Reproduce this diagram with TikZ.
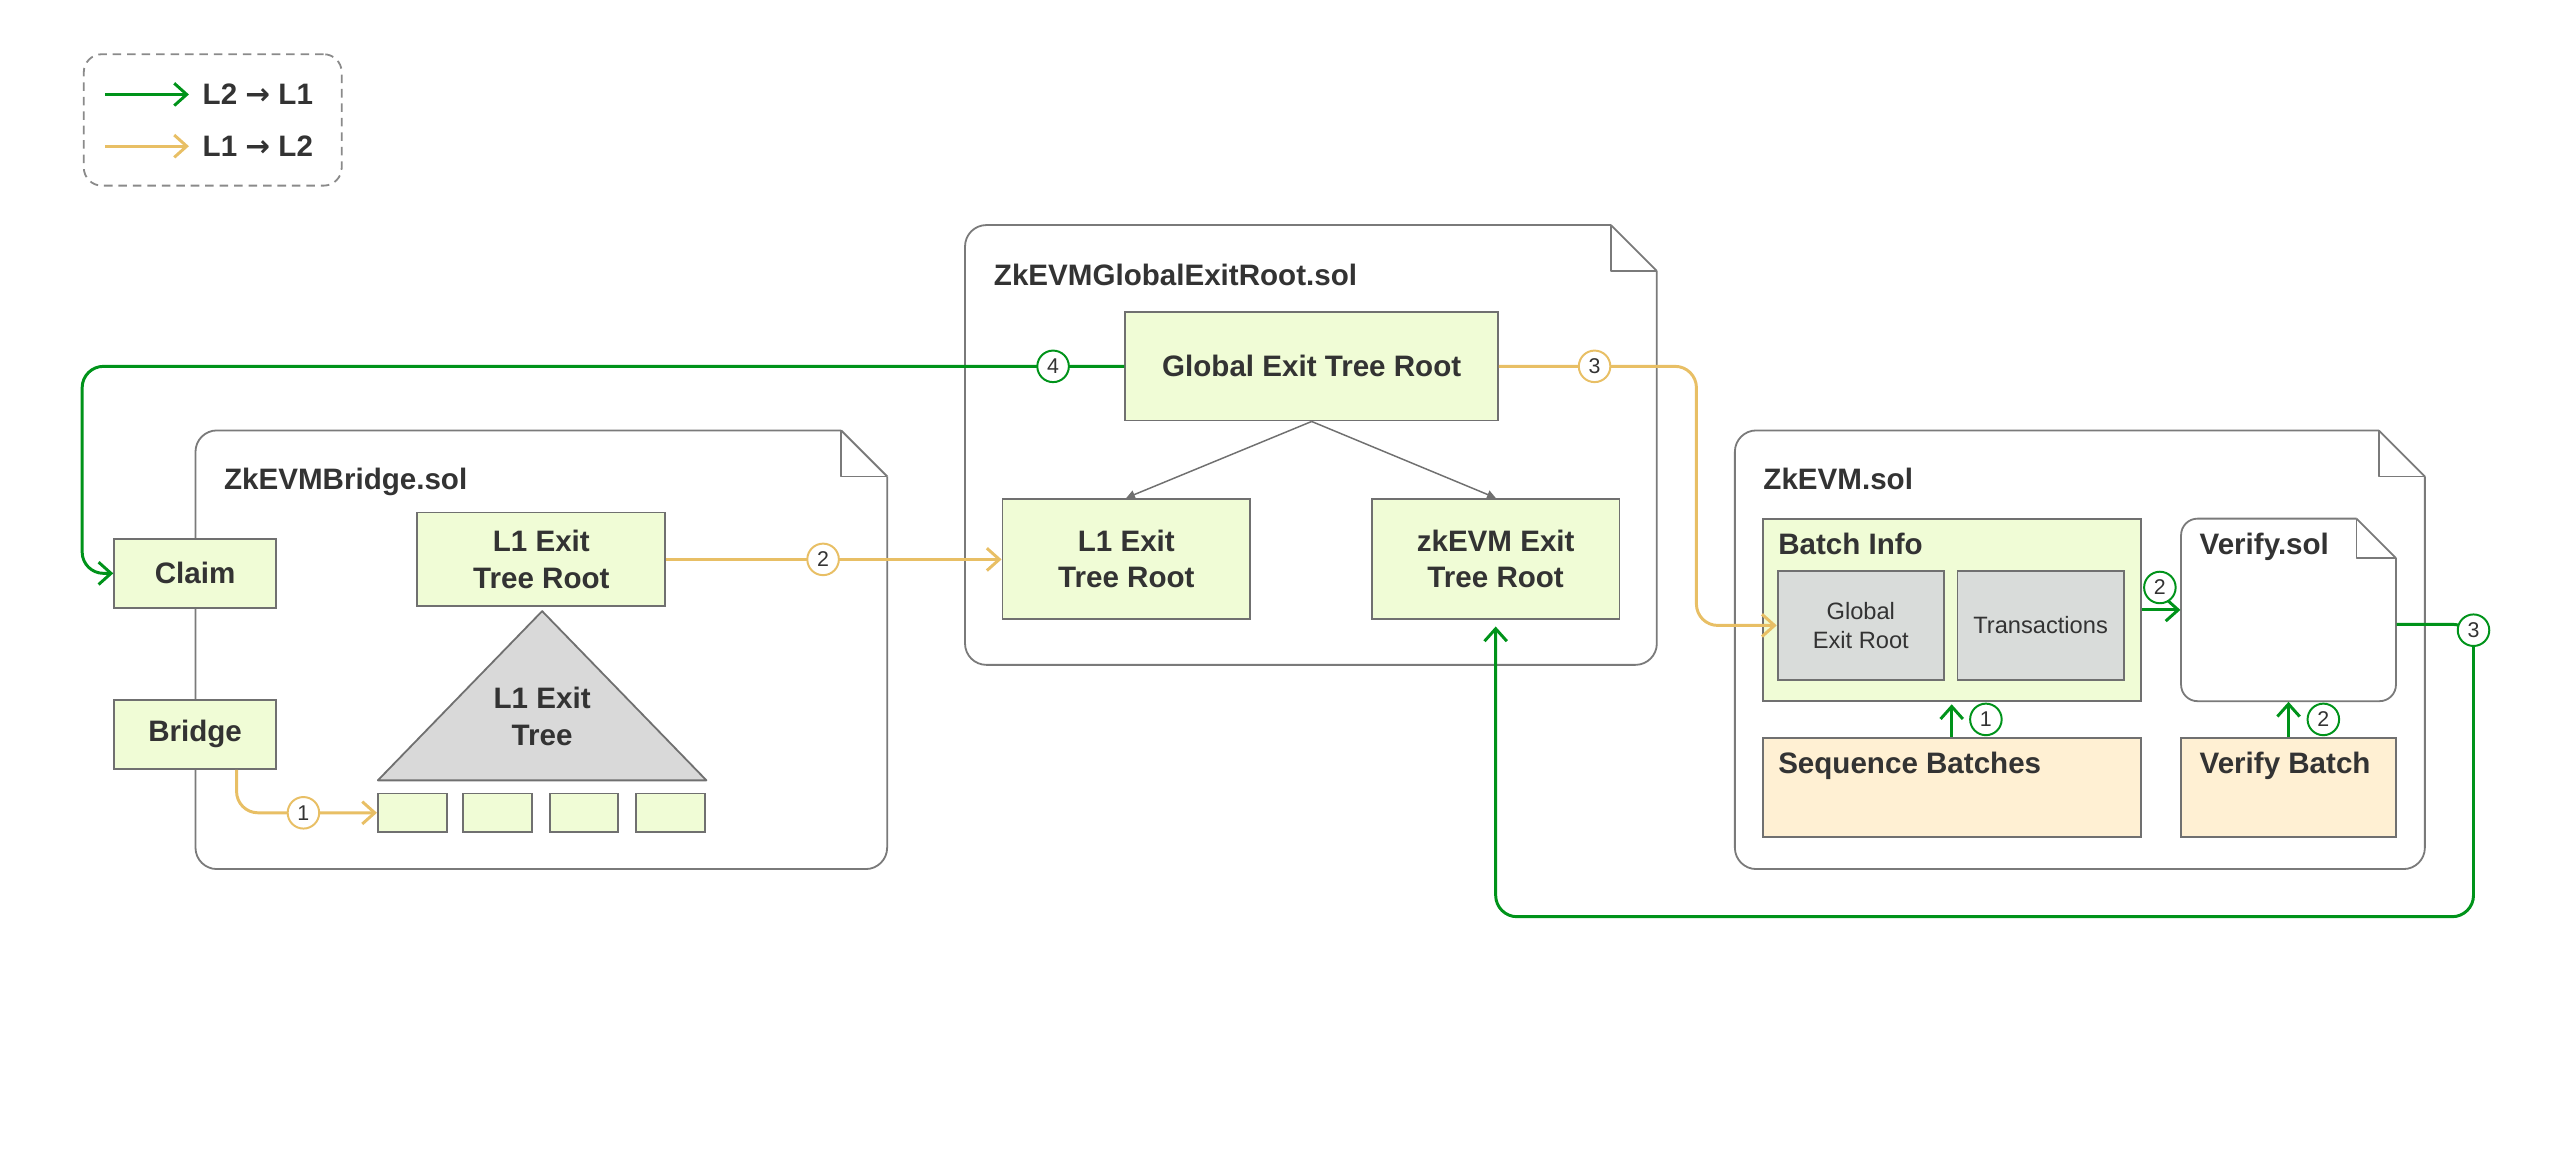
\documentclass[tikz,border=0pt]{standalone}
\usepackage{fontspec}
\setmainfont{Liberation Sans}
\newfontfamily\symfont{DejaVu Sans}
\usetikzlibrary{arrows.meta}
\definecolor{lgreen}{HTML}{00931A}
\definecolor{lyellow}{HTML}{E8BF65}
\definecolor{boxg}{HTML}{F0FCD6}
\definecolor{grayf}{HTML}{D9DCDA}
\definecolor{orf}{HTML}{FFF0D3}
\definecolor{trif}{HTML}{D9D9D9}
\definecolor{bordc}{HTML}{707070}
\definecolor{docc}{HTML}{7A7A7A}
\definecolor{txtc}{HTML}{333333}
\definecolor{legc}{HTML}{8A8A8A}
\newcommand\mydoc[6]{%
  \draw[docline, rounded corners=#6] (#3,#2+#5) -- (#3,#4) -- (#1,#4) -- (#1,#2) -- (#3-#5,#2);
  \draw[docline, line join=round] (#3-#5,#2) -- (#3,#2+#5);
  \draw[docline, line join=round] (#3-#5,#2) -- (#3-#5,#2+#5) -- (#3,#2+#5);
}
\begin{document}
\begin{tikzpicture}[x=0.5pt,y=-0.5pt,
  box/.style={draw=bordc, line width=0.55pt, fill=boxg, inner sep=0pt, align=center, text=txtc, font=\bfseries\fontsize{9}{11.2}\selectfont},
  graybox/.style={box, fill=grayf, font=\fontsize{7.2}{8.7}\selectfont},
  orbox/.style={box, fill=orf},
  num/.style={circle, fill=white, line width=0.6pt, minimum size=9.6pt, inner sep=0pt, text=txtc, font=\fontsize{6.5}{7}\selectfont},
  gline/.style={draw=lgreen, line width=0.9pt},
  yline/.style={draw=lyellow, line width=0.9pt},
  tip/.style={-{Straight Barb[length=3.8pt,width=6.8pt]}},
  graytip/.style={draw=bordc, line width=0.45pt, -{Triangle[length=2.6pt,width=2.6pt]}},
  title/.style={anchor=base west, inner sep=0pt, text=txtc, font=\bfseries\fontsize{9}{11}\selectfont},
  docline/.style={draw=docc, line width=0.55pt},
]
\useasboundingbox (0,0) rectangle (1568,705);

% ---------- legend ----------
\node[draw=legc, line width=0.55pt, dash pattern=on 2.6pt off 1.8pt, rounded corners=5.5pt,
      minimum width=78.5pt, minimum height=40pt, inner sep=0pt] (legend) at (129.5,73) {};
\coordinate (lg1a) at (64,57.5);
\coordinate (lg1b) at (115,57.5);
\coordinate (lg2a) at (64,89);
\coordinate (lg2b) at (115,89);
\draw[gline, tip] (lg1a) -- (lg1b);
\draw[yline, tip] (lg2a) -- (lg2b);
\node[anchor=west, inner sep=0pt, text=txtc, font=\bfseries\fontsize{9}{11}\selectfont] (lgt1) at (123,57.5) {L2 {\symfont\bfseries →} L1};
\node[anchor=west, inner sep=0pt, text=txtc, font=\bfseries\fontsize{9}{11}\selectfont] (lgt2) at (123,89) {L1 {\symfont\bfseries →} L2};

% ---------- document outlines ----------
\mydoc{119}{262}{540}{529}{28}{6.5pt}
\mydoc{587.4}{137}{1008.5}{404.7}{28}{6.5pt}
\mydoc{1056}{262}{1476}{529}{28}{6.5pt}
\mydoc{1327.6}{315.7}{1458.4}{426.8}{24}{5pt}

\node[title] (t1) at (136,298) {ZkEVMBridge.sol};
\node[title] (t2) at (604.6,173.5) {ZkEVMGlobalExitRoot.sol};
\node[title] (t3) at (1073,298) {ZkEVM.sol};

% ---------- nodes (positions) ----------
\node[box, minimum width=49.25pt, minimum height=21pt] (claim) at (118.75,349) {Claim};
\node[box, minimum width=49.25pt, minimum height=21pt] (bridge) at (118.75,447) {Bridge};
\node[box, minimum width=75.5pt, minimum height=28.5pt] (bl1root) at (329.5,340.5) {L1 Exit\\Tree Root};

\draw[fill=trif, draw=bordc, line width=0.55pt, line join=round] (330,372) -- (430,475) -- (230,475) -- cycle;
\node[align=center, inner sep=0pt, text=txtc, font=\bfseries\fontsize{9}{11.2}\selectfont] (treelbl) at (330,436) {L1 Exit\\Tree};

\node[box, minimum width=21pt, minimum height=11.75pt] (leaf1) at (251,494.75) {};
\node[box, minimum width=21pt, minimum height=11.75pt] (leaf2) at (303,494.75) {};
\node[box, minimum width=20.5pt, minimum height=11.75pt] (leaf3) at (355.5,494.75) {};
\node[box, minimum width=21pt, minimum height=11.75pt] (leaf4) at (408,494.75) {};

\node[box, minimum width=113.4pt, minimum height=33pt] (getr) at (798.4,223) {Global Exit Tree Root};
\node[box, minimum width=75.4pt, minimum height=36.6pt] (gl1root) at (685.6,340.2) {L1 Exit\\Tree Root};
\node[box, minimum width=75.4pt, minimum height=36.6pt] (gzkroot) at (910.4,340.2) {zkEVM Exit\\Tree Root};

\node[box, minimum width=115pt, minimum height=55.5pt] (batchinfo) at (1188,371.25) {};
\node[title] (bilbl) at (1082,337.8) {Batch Info};
\node[graybox, minimum width=50.65pt, minimum height=33.3pt] (gerbox) at (1132.65,380.7) {Global\\Exit Root};
\node[graybox, minimum width=50.6pt, minimum height=33.3pt] (txbox) at (1242.1,380.7) {Transactions};

\node[minimum width=65.4pt, minimum height=55.55pt, inner sep=0pt] (verify) at (1393,371.25) {};
\node[title] (vlbl) at (1338.5,337.8) {Verify.sol};

\node[orbox, minimum width=115pt, minimum height=30.3pt] (seqb) at (1188,479.3) {};
\node[title] (seqlbl) at (1082,471) {Sequence Batches};
\node[orbox, minimum width=65.4pt, minimum height=30.3pt] (verb) at (1393,479.3) {};
\node[title] (verblbl) at (1338.5,471) {Verify Batch};

% ---------- helper coordinates ----------
\coordinate (g4x) at (50,300);
\coordinate (y1x) at (144,300);
\coordinate (y3x) at (1032.6,300);
\coordinate (g3a) at (1505.6,380);
\coordinate (g3b) at (1505.6,558);

% ---------- connectors ----------
\begin{scope}[on background layer/.style={}]
\draw[gline, tip, rounded corners=6.5pt] (getr.west) -- (getr.west -| g4x) |- (claim.west);
\draw[yline, tip, rounded corners=6.5pt] (bridge.south -| y1x) |- (leaf1.west);
\draw[yline, tip] (bl1root.east) -- (bl1root.east -| gl1root.west);
\draw[yline, tip, rounded corners=6.5pt] (getr.east) -- (getr.east -| y3x) |- (gerbox.west);
\draw[graytip] (getr.south) -- (gl1root.north);
\draw[graytip] (getr.south) -- (gzkroot.north);
\draw[gline, tip, shorten >=0.7pt] (seqb.north) -- (batchinfo.south);
\draw[gline, tip] (verb.north) -- (verify.south);
\draw[gline, tip] (batchinfo.east) -- (verify.west);
\draw[gline, tip, rounded corners=6.5pt, shorten >=2pt] (verify.east |- g3a) -- (g3a) -- (g3b) -- (g3b -| gzkroot.south) -- (gzkroot.south);
\end{scope}

% ---------- numbered circles ----------
\node[num, draw=lgreen] (c4) at (641,223) {4};
\node[num, draw=lyellow] (c1y) at (184.7,494.75) {1};
\node[num, draw=lyellow] (c2y) at (501,340.5) {2};
\node[num, draw=lyellow] (c3y) at (970.6,223) {3};
\node[num, draw=lgreen] (c1g) at (1208.8,437.9) {1};
\node[num, draw=lgreen] (c2g) at (1414.2,437.9) {2};
\node[num, draw=lgreen] (c2v) at (1314.7,357.6) {2};
\node[num, draw=lgreen] (c3g) at (1505.6,383.6) {3};
\end{tikzpicture}
\end{document}
